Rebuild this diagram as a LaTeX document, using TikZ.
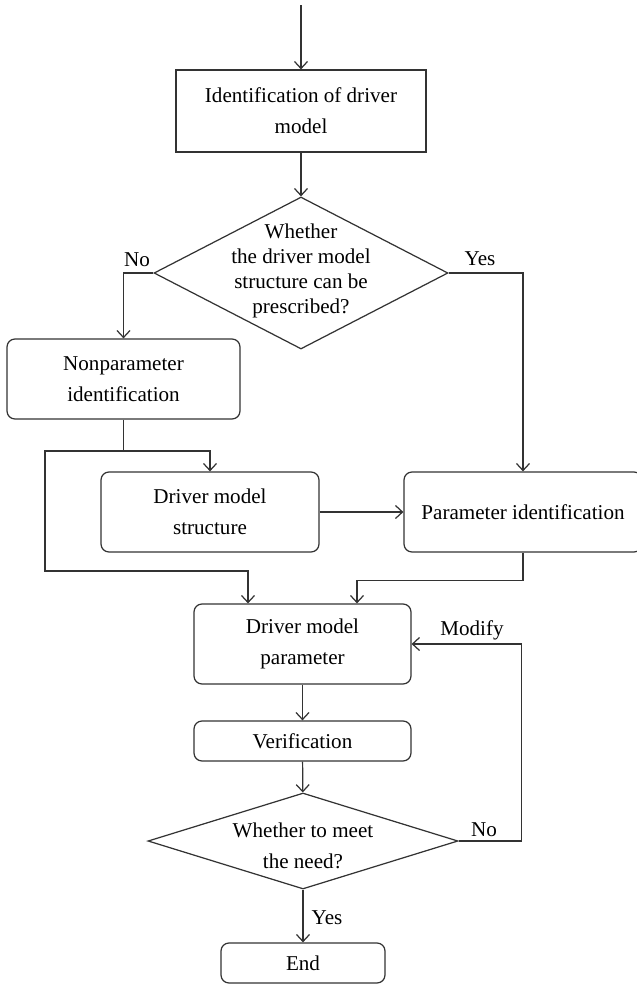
\documentclass[tikz,border=0pt]{standalone}
\usepackage{fontspec}
\setmainfont{Liberation Serif}
\usetikzlibrary{shapes.geometric,arrows.meta}
\tikzset{
 box/.style={draw=black!80,line width=0.7pt,align=center,inner sep=0pt},
 rbox/.style={box,rounded corners=1.6mm},
 dia/.style={draw=black!80,line width=0.7pt,shape=diamond,inner sep=0pt},
 conn/.style={draw=black!80,line width=0.7pt,-{Straight Barb[length=1.4mm,width=2.6mm]}},
 lbl/.style={inner sep=0pt}
}
\begin{document}
\begin{tikzpicture}[x=0.2mm,y=-0.2mm,font=\fontsize{12}{17.6}\selectfont]
 \useasboundingbox (0,0) rectangle (637,985);
 % blocks
 \node[box,minimum width=50mm,minimum height=16.4mm] (ident) at (301,111) {Identification of driver\\model};
 \node[dia,minimum width=58.8mm,minimum height=30.4mm] (d1) at (301,273) {};
 \node[lbl,align=center,font=\fontsize{12}{14.2}\selectfont] (d1text) at (301,271) {Whether\\the driver model\\structure can be\\prescribed?};
 \node[rbox,minimum width=46.6mm,minimum height=16mm] (nonparam) at (123.5,379) {Nonparameter\\identification};
 \node[rbox,minimum width=43.6mm,minimum height=16mm] (dms) at (210,512) {Driver model\\structure};
 \node[rbox,minimum width=47.6mm,minimum height=16mm] (param) at (523,512) {Parameter identification};
 \node[rbox,minimum width=43.4mm,minimum height=16mm] (dmp) at (302.5,644) {Driver model\\parameter};
 \node[rbox,minimum width=43.4mm,minimum height=8mm] (ver) at (302.5,741) {Verification};
 \node[dia,minimum width=62mm,minimum height=19.2mm] (d2) at (303,841) {};
 \node[lbl,align=center] (d2text) at (303,846) {Whether to meet\\the need?};
 \node[rbox,minimum width=32.8mm,minimum height=8mm] (end) at (303,963) {End};
 % labels
 \node[lbl] (no1) at (137,260) {No};
 \node[lbl] (yes1) at (480,259) {Yes};
 \node[lbl] (modify) at (472,630) {Modify};
 \node[lbl] (no2) at (484,830) {No};
 \node[lbl] (yes2) at (327,918) {Yes};
 % connectors
 \coordinate (start) at (301,5);
 \coordinate (split) at (123.5,451);
 \draw[conn] (start) -- (ident);
 \draw[conn] (ident) -- (d1);
 \draw[conn] (d1.west) -| (nonparam);
 \draw[conn] (d1.east) -| (param);
 \draw[draw=black!80,line width=0.7pt] (nonparam) -- (split);
 \draw[conn] (split) -| (dms);
 \draw[conn] (split) -| (45,571) -| ([xshift=-10.9mm]dmp.north);
 \draw[conn] (dms) -- (param);
 \draw[conn] (param.south) -- ++(0,28) -| ([xshift=10.9mm]dmp.north);
 \draw[conn] (dmp) -- (ver);
 \draw[conn] (ver) -- (d2);
 \draw[conn] (d2.east) -- ++(63,0) |- (dmp.east);
 \draw[conn] (d2) -- (end);
\end{tikzpicture}
\end{document}
